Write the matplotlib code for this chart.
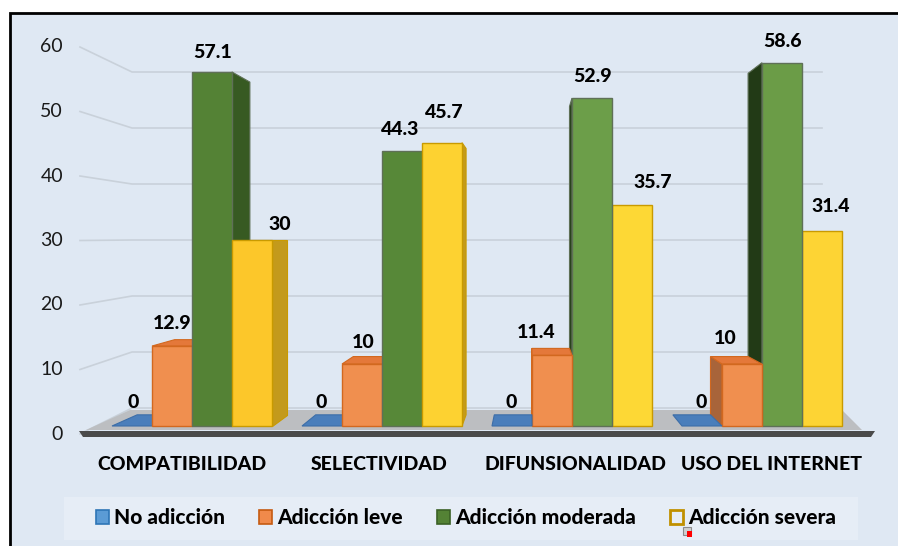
import numpy as np
import matplotlib.pyplot as plt
from matplotlib.patches import Polygon, Rectangle, Patch

categories = ['COMPATIBILIDAD', 'SELECTIVIDAD', 'DIFUNSIONALIDAD', 'USO DEL INTERNET']
series = ['No adicción', 'Adicción leve', 'Adicción moderada', 'Adicción severa']
no_adiccion = [0, 0, 0, 0]
adiccion_leve = [12.9, 10, 11.4, 10]
adiccion_moderada = [57.1, 44.3, 52.9, 58.6]
adiccion_severa = [30, 45.7, 35.7, 31.4]
y_ticks = [0, 10, 20, 30, 40, 50, 60]

plt.rcParams['font.family'] = ['Lato', 'DejaVu Sans']

W, H = 898, 546
fig = plt.figure(figsize=(W / 100, H / 100), dpi=100)
ax = fig.add_axes([0, 0, 1, 1])

# one category per unit on x, value units on y (front plane of the bars)
X0, XS = 192, 190      # px of category 0, px per category
Y0, YS = 426, 6.2      # px of value 0, px per value unit
ax.set_xlim(-X0 / XS, (W - X0) / XS)
ax.set_ylim((Y0 - H) / YS, Y0 / YS)
ax.axis('off')


def px(x, y):
    # pixel position (from top-left) -> data coords
    return ((x - X0) / XS, (Y0 - y) / YS)


def poly_px(pts, **kw):
    ax.add_patch(Polygon([px(*p) for p in pts], closed=True, **kw))


# chart area
poly_px([(10, 13), (W + 5, 13), (W + 5, H + 5), (10, H + 5)],
        facecolor='#dfe8f3', edgecolor='black', lw=2, zorder=0)

# back wall grid (perspective: labels sit lower than the wall lines)
for v in y_ticks:
    y_lab = 434 - 6.45 * v
    y_wall = 408 - 5.6 * v
    ax.plot(*zip(px(80, y_lab), px(132, y_wall), px(822, y_wall)),
            color='#c9d1da', lw=1.2, zorder=1)
    ax.text(*px(63, y_lab), str(v), ha='right', va='center',
            fontsize=14, color='#1a1a1a', zorder=1)

# floor
poly_px([(86, 430), (862, 430), (842, 410), (130, 410)],
        facecolor='#bcbec1', edgecolor='none', zorder=2)
poly_px([(79, 431), (875, 431), (871, 437), (83, 437)],
        facecolor='#4a4a4a', edgecolor='none', zorder=2)

# 3d-ish bars
values = [no_adiccion, adiccion_leve, adiccion_moderada, adiccion_severa]
front_col = [['#4f86c6'] * 4,
             ['#f08f4f'] * 4,
             ['#548235', '#578838', '#6c9e49', '#6b9c47'],
             ['#fcc72a', '#fdd231', '#fdd835', '#fdd434']]
side_col = [['#3c6ea8'] * 4,
            ['#a8643a'] * 4,
            ['#375a22', '#375a22', '#28411a', '#223a16'],
            ['#c39a1c'] * 4]
top_col = ['#4a7ebb', '#e4783a', '#4d7a30', '#e9b81f']
edge_col = ['#3d6ea8', '#d2681f', '#5f7057', '#c99a00']

vx, vy = px(530, 240)   # vanishing point
depth = 0.06
w = 40 / XS


def back(p):
    return (p[0] + depth * (vx - p[0]), p[1] + depth * (vy - p[1]))


bars = []
for s in range(len(series)):
    for i in range(len(categories)):
        x0 = i + (s - 2) * w
        bars.append((s, i, x0, x0 + w, values[s][i]))
bars.sort(key=lambda b: -abs((b[2] + b[3]) / 2 - vx))

for z, (s, i, x0, x1, v) in enumerate(bars):
    zo = 3 + z * 0.01
    ec = edge_col[s]
    xs = x1 if (x0 + x1) / 2 < vx else x0
    side = [(xs, 0), (xs, v), back((xs, v)), back((xs, 0))]
    if v > 0:
        ax.add_patch(Polygon(side, closed=True, fc=side_col[s][i], ec=ec,
                             lw=0.8, zorder=zo))
    if v < vy:
        top = [(x0, v), (x1, v), back((x1, v)), back((x0, v))]
        ax.add_patch(Polygon(top, closed=True, fc=top_col[s], ec=ec,
                             lw=0.8, zorder=zo))
    if v > 0:
        ax.add_patch(Rectangle((x0, 0), w, v, fc=front_col[s][i], ec=ec,
                               lw=1.0, zorder=zo))

# value labels (px nudges for the perspective)
lab_dx = [[1, -1, -1, -1], [0, 1, -16, -17], [1, -2, 1, 1], [28, 2, 21, 9]]
lab_dy = [[23, 23, 23, 23], [23, 22, 23, 26], [19, 22, 22, 21], [15, 30, 22, 25]]
for s in range(len(series)):
    for i in range(len(categories)):
        v = values[s][i]
        cx = i + (s - 1.5) * w + lab_dx[s][i] / XS
        ax.text(cx, v + lab_dy[s][i] / YS, f'{v:g}', ha='center', va='center',
                fontsize=14, fontweight='black', color='black', zorder=10)

# category labels
for i, c in enumerate(categories):
    cx_px = X0 + XS * i
    cx_px += 0.035 * (cx_px - 478)
    ax.text(*px(cx_px, 465), c, ha='center', va='center',
            fontsize=14, fontweight='black', color='black', zorder=10)

# legend
poly_px([(64, 497), (858, 497), (858, 540), (64, 540)],
        facecolor='#e6edf6', edgecolor='none', zorder=1)
handles = [Patch(fc='#5b9bd5', ec='#2e75b6', lw=1.2),
           Patch(fc='#f08a4b', ec='#c55a11', lw=1.2),
           Patch(fc='#548235', ec='#3b6126', lw=1.2),
           Patch(fc='#e6edf6', ec='#c09000', lw=2)]
fs = 15
fpx = fs * 100 / 72
fig.legend(handles, series, loc='center', bbox_to_anchor=(466 / W, 1 - 518 / H),
           ncol=4, frameon=False, prop={'size': fs, 'weight': 'black'},
           handlelength=13 / fpx, handleheight=13 / fpx,
           handletextpad=5 / fpx, columnspacing=34 / fpx)
# small marker glitch next to the last legend key
poly_px([(683, 527), (691, 527), (691, 535), (683, 535)],
        facecolor='#d0d0d0', edgecolor='#8c8c8c', lw=0.8, zorder=12)
poly_px([(687, 531), (692, 531), (692, 537), (687, 537)],
        facecolor='#ff0000', edgecolor='none', zorder=13)

fig.savefig('out.png', dpi=100)
